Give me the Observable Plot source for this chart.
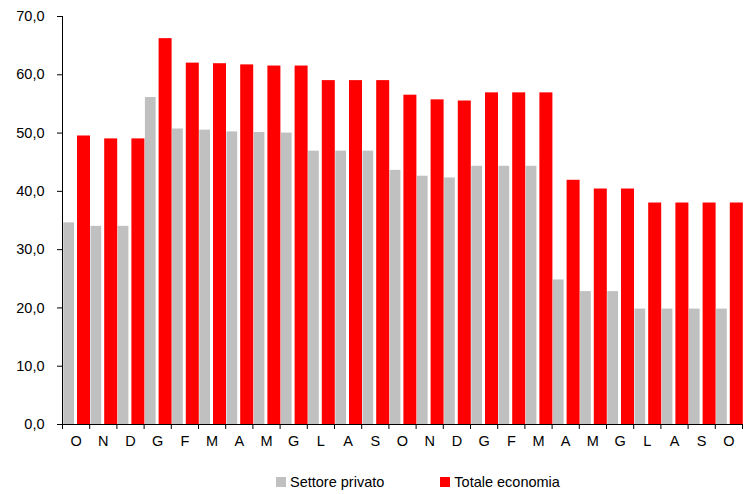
<!DOCTYPE html>
<html>
<head>
<meta charset="utf-8">
<script src="https://cdn.jsdelivr.net/npm/d3@7"></script>
<script src="https://cdn.jsdelivr.net/npm/@observablehq/plot@0.6"></script>
<style>
  html, body { margin: 0; padding: 0; background: #fff; }
  body { width: 745px; height: 494px; position: relative; font-family: "Liberation Sans", Arial, sans-serif; overflow: hidden; }
  #chart svg { display: block; }
  .legend { position: absolute; top: 474px; left: 276px; display: flex; align-items: center; font-size: 14.5px; color: #000; }
  .legend .item { display: flex; align-items: center; }
  .legend .sw { width: 10px; height: 10px; margin-right: 4px; }
</style>
</head>
<body>
<div id="chart"></div>
<div class="legend">
  <div class="item"><span class="sw" style="background:#C0C0C0"></span><span>Settore privato</span></div>
  <div class="item" style="margin-left:56px"><span class="sw" style="background:#FF0000"></span><span>Totale economia</span></div>
</div>
<script>
const months = ["O","N","D","G","F","M","A","M","G","L","A","S","O","N","D","G","F","M","A","M","G","L","A","S","O"];
const settorePrivato = [34.6,34.0,34.0,56.1,50.7,50.5,50.2,50.1,50.0,46.9,46.9,46.9,43.6,42.6,42.3,44.3,44.3,44.3,24.8,22.8,22.8,19.8,19.8,19.8,19.8];
const totaleEconomia = [49.5,49.0,49.0,66.2,62.0,61.9,61.7,61.5,61.5,59.0,59.0,59.0,56.5,55.7,55.5,56.9,56.9,56.9,41.9,40.4,40.4,38.0,38.0,38.0,38.0];
const yTicks = [0,10,20,30,40,50,60,70];
const seriesNames = ["Settore privato","Totale economia"];
const colors = ["#C0C0C0","#FF0000"];

const data = months.map((m, i) => ({i, month: m, priv: settorePrivato[i], tot: totaleEconomia[i]}));
const fmt = v => d3.format(".1f")(v).replace(".", ",");

const chart = Plot.plot({
  width: 745,
  height: 460,
  marginLeft: 62,
  marginRight: 3,
  marginTop: 16,
  marginBottom: 36,
  style: {fontFamily: "'Liberation Sans', Arial, sans-serif", fontSize: "14.5px", color: "#000", background: "#fff"},
  x: {type: "linear", domain: [0, months.length], axis: null},
  y: {domain: [0, 70], axis: null},
  marks: [
    Plot.rectY(data, {x1: d => d.i, x2: d => d.i + 1, y: "priv", fill: colors[0], insetLeft: 1.3, insetRight: 15.2}),
    Plot.rectY(data, {x1: d => d.i, x2: d => d.i + 1, y: "tot", fill: colors[1], insetLeft: 15, insetRight: -0.8}),
    Plot.axisY({ticks: yTicks, tickFormat: fmt, tickSize: 5, tickPadding: 13, anchor: "left", stroke: "#000", strokeOpacity: 1, fontSize: "14.5px"}),
    Plot.axisX({ticks: d3.range(0, months.length + 1), tickFormat: () => "", tickSize: 5, anchor: "bottom", stroke: "#000", strokeOpacity: 1}),
    Plot.axisX({ticks: d3.range(0, months.length).map(i => i + 0.5), tickFormat: d => months[Math.floor(d)], tickSize: 0, tickPadding: 11, anchor: "bottom", fontSize: "14.5px"}),
    Plot.ruleX([0], {y1: 0, y2: 70, stroke: "#000"}),
    Plot.ruleY([0], {stroke: "#000"})
  ]
});
document.getElementById("chart").appendChild(chart);
</script>
</body>
</html>
